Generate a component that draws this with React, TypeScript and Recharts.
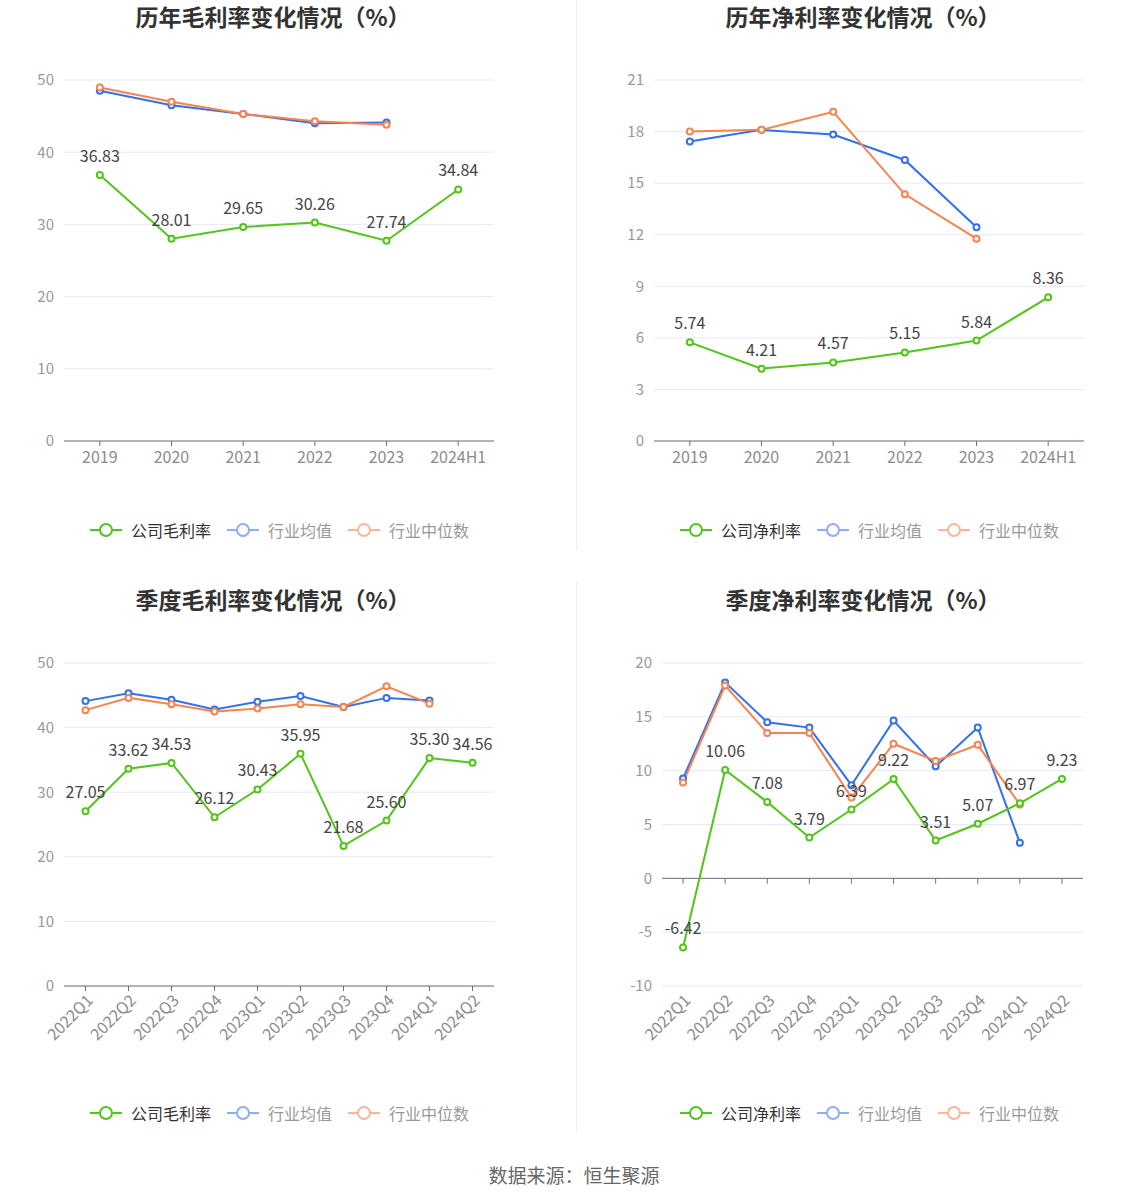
import React from 'react';
import { LineChart, Line, XAxis, YAxis, CartesianGrid, LabelList, ReferenceLine } from 'recharts';

const annualCats = ['2019', '2020', '2021', '2022', '2023', '2024H1'];
const annualGrossCompany = [36.83, 28.01, 29.65, 30.26, 27.74, 34.84];
const annualGrossAvg = [48.5, 46.5, 45.3, 44.0, 44.1, null];
const annualGrossMedian = [48.95, 47.0, 45.3, 44.3, 43.8, null];
const annualNetCompany = [5.74, 4.21, 4.57, 5.15, 5.84, 8.36];
const annualNetAvg = [17.42, 18.1, 17.83, 16.35, 12.43, null];
const annualNetMedian = [18.0, 18.1, 19.15, 14.35, 11.77, null];

const quarterCats = ['2022Q1', '2022Q2', '2022Q3', '2022Q4', '2023Q1', '2023Q2', '2023Q3', '2023Q4', '2024Q1', '2024Q2'];
const qGrossCompany = [27.05, 33.62, 34.53, 26.12, 30.43, 35.95, 21.68, 25.6, 35.3, 34.56];
const qGrossAvg = [44.1, 45.3, 44.3, 42.8, 44.0, 44.9, 43.2, 44.6, 44.2, null];
const qGrossMedian = [42.7, 44.6, 43.6, 42.5, 42.95, 43.6, 43.2, 46.4, 43.7, null];
const qNetCompany = [-6.42, 10.06, 7.08, 3.79, 6.39, 9.22, 3.51, 5.07, 6.97, 9.23];
const qNetAvg = [9.27, 18.2, 14.5, 14.0, 8.65, 14.65, 10.4, 14.0, 3.3, null];
const qNetMedian = [8.9, 17.9, 13.5, 13.5, 7.5, 12.5, 10.9, 12.4, 6.85, null];

const grossTicks = [0, 10, 20, 30, 40, 50];
const annualNetTicks = [0, 3, 6, 9, 12, 15, 18, 21];
const qNetTicks = [-10, -5, 0, 5, 10, 15, 20];

const GREEN = '#52C41A';
const BLUE = '#3370EB';
const ORANGE = '#F7834F';
const FONT = '"Noto Sans CJK SC", "Noto Sans", sans-serif';

function build(cats: string[], c: number[], a: (number | null)[], m: (number | null)[]) {
  return cats.map((name, i) => ({ name, company: c[i], avg: a[i], median: m[i] }));
}

const RotTick = (props: any) => {
  const { x, y, payload } = props;
  return (
    <text
      x={x}
      y={y}
      dy="0.75em"
      textAnchor="end"
      fill="#8c8c8c"
      fontSize={16}
      fontFamily={FONT}
      transform={`rotate(-45, ${x}, ${y})`}
    >
      {payload.value}
    </text>
  );
};

const LegendIcon = ({ color }: { color: string }) => (
  <svg width={32} height={16} style={{ display: 'block' }}>
    <line x1={0} y1={8} x2={32} y2={8} stroke={color} strokeWidth={2} />
    <circle cx={16} cy={8} r={6} fill="#fff" stroke={color} strokeWidth={2} />
  </svg>
);

const Legend = ({ name, left, top }: { name: string; left: number; top: number }) => (
  <div
    style={{
      position: 'absolute',
      left,
      top,
      display: 'flex',
      alignItems: 'center',
      fontFamily: FONT,
      fontSize: 16,
      whiteSpace: 'nowrap',
    }}
  >
    <LegendIcon color={GREEN} />
    <span style={{ color: '#333', marginLeft: 9, marginRight: 16 }}>{name}</span>
    <LegendIcon color="#8EADF5" />
    <span style={{ color: '#999', marginLeft: 9, marginRight: 16 }}>行业均值</span>
    <LegendIcon color="#FBB69A" />
    <span style={{ color: '#999', marginLeft: 9 }}>行业中位数</span>
  </div>
);

type PanelProps = {
  left: number;
  top: number;
  title: string;
  titleCenter: number;
  legendName: string;
  legendLeft: number;
  data: any[];
  cats: string[];
  ticks: number[];
  margin: { top: number; right: number; bottom: number; left: number };
  yWidth: number;
  xHeight: number;
  rotated?: boolean;
  zeroAxis?: boolean;
};

const Panel = (p: PanelProps) => {
  const domain = [p.ticks[0], p.ticks[p.ticks.length - 1]];
  return (
    <div style={{ position: 'absolute', left: p.left, top: p.top, width: 574, height: 583 }}>
      <div
        style={{
          position: 'absolute',
          left: p.titleCenter - 200,
          width: 400,
          top: 1,
          textAlign: 'center',
          fontFamily: FONT,
          fontWeight: 'bold',
          fontSize: 23,
          color: '#333',
          lineHeight: '30px',
        }}
      >
        {p.title}
      </div>
      <LineChart width={574} height={583} data={p.data} margin={p.margin}>
        <CartesianGrid vertical={false} stroke="#E6EAF4" />
        <XAxis
          dataKey="name"
          scale="band"
          interval={0}
          height={p.xHeight}
          axisLine={p.zeroAxis ? false : { stroke: '#6E7079' }}
          tickLine={p.zeroAxis ? false : { stroke: '#6E7079' }}
          tickSize={5}
          tickMargin={p.rotated ? 2 : 6}
          tick={p.rotated ? <RotTick /> : { fill: '#8c8c8c', fontSize: 16, fontFamily: FONT }}
        />
        <YAxis
          width={p.yWidth}
          domain={domain}
          ticks={p.ticks}
          interval={0}
          axisLine={false}
          tickLine={false}
          tickSize={8}
          tickMargin={2}
          tick={{ fill: '#999', fontSize: 15, fontFamily: FONT }}
        />
        {p.zeroAxis && <ReferenceLine y={0} stroke="#6E7079" strokeWidth={1} />}
        {p.zeroAxis &&
          p.cats.map((c) => (
            <ReferenceLine
              key={c}
              segment={[
                { x: c, y: 0 },
                { x: c, y: -0.5 },
              ]}
              stroke="#6E7079"
              strokeWidth={1}
            />
          ))}
        <Line
          dataKey="avg"
          stroke={BLUE}
          strokeWidth={2}
          dot={{ r: 3, strokeWidth: 2, fill: '#fff', stroke: BLUE }}
          isAnimationActive={false}
        />
        <Line
          dataKey="median"
          stroke={ORANGE}
          strokeWidth={2}
          dot={{ r: 3, strokeWidth: 2, fill: '#fff', stroke: ORANGE }}
          isAnimationActive={false}
        />
        <Line
          dataKey="company"
          stroke={GREEN}
          strokeWidth={2}
          dot={{ r: 3, strokeWidth: 2, fill: '#fff', stroke: GREEN }}
          isAnimationActive={false}
        >
          <LabelList
            dataKey="company"
            position="top"
            offset={13}
            fill="#444"
            fontSize={16}
            fontFamily={FONT}
            formatter={(v: any) => Number(v).toFixed(2)}
          />
        </Line>
      </LineChart>
      <Legend name={p.legendName} left={p.legendLeft} top={518} />
    </div>
  );
};

export default function App() {
  return (
    <div style={{ position: 'absolute', left: 0, top: 0, width: 1148, height: 1202, background: '#fff' }}>
      <div style={{ position: 'absolute', left: 576, top: 0, width: 1, height: 550, background: '#EEEEEE' }} />
      <div style={{ position: 'absolute', left: 576, top: 582, width: 1, height: 550, background: '#EEEEEE' }} />
      <Panel
        left={0}
        top={0}
        title="历年毛利率变化情况（%）"
        titleCenter={273}
        legendName="公司毛利率"
        legendLeft={90}
        data={build(annualCats, annualGrossCompany, annualGrossAvg, annualGrossMedian)}
        cats={annualCats}
        ticks={grossTicks}
        margin={{ top: 80, right: 80, bottom: 112, left: 14 }}
        yWidth={50}
        xHeight={30}
      />
      <Panel
        left={574}
        top={0}
        title="历年净利率变化情况（%）"
        titleCenter={289}
        legendName="公司净利率"
        legendLeft={106}
        data={build(annualCats, annualNetCompany, annualNetAvg, annualNetMedian)}
        cats={annualCats}
        ticks={annualNetTicks}
        margin={{ top: 80, right: 64, bottom: 112, left: 30 }}
        yWidth={50}
        xHeight={30}
      />
      <Panel
        left={0}
        top={583}
        title="季度毛利率变化情况（%）"
        titleCenter={273}
        legendName="公司毛利率"
        legendLeft={90}
        data={build(quarterCats, qGrossCompany, qGrossAvg, qGrossMedian)}
        cats={quarterCats}
        ticks={grossTicks}
        margin={{ top: 80, right: 80, bottom: 120, left: 14 }}
        yWidth={50}
        xHeight={60}
        rotated
      />
      <Panel
        left={574}
        top={583}
        title="季度净利率变化情况（%）"
        titleCenter={289}
        legendName="公司净利率"
        legendLeft={106}
        data={build(quarterCats, qNetCompany, qNetAvg, qNetMedian)}
        cats={quarterCats}
        ticks={qNetTicks}
        margin={{ top: 80, right: 65, bottom: 120, left: 28 }}
        yWidth={60}
        xHeight={60}
        rotated
        zeroAxis
      />
      <div
        style={{
          position: 'absolute',
          left: 0,
          width: 1148,
          top: 1162,
          textAlign: 'center',
          fontFamily: FONT,
          fontSize: 19,
          color: '#666',
          lineHeight: '26px',
        }}
      >
        数据来源：恒生聚源
      </div>
    </div>
  );
}
